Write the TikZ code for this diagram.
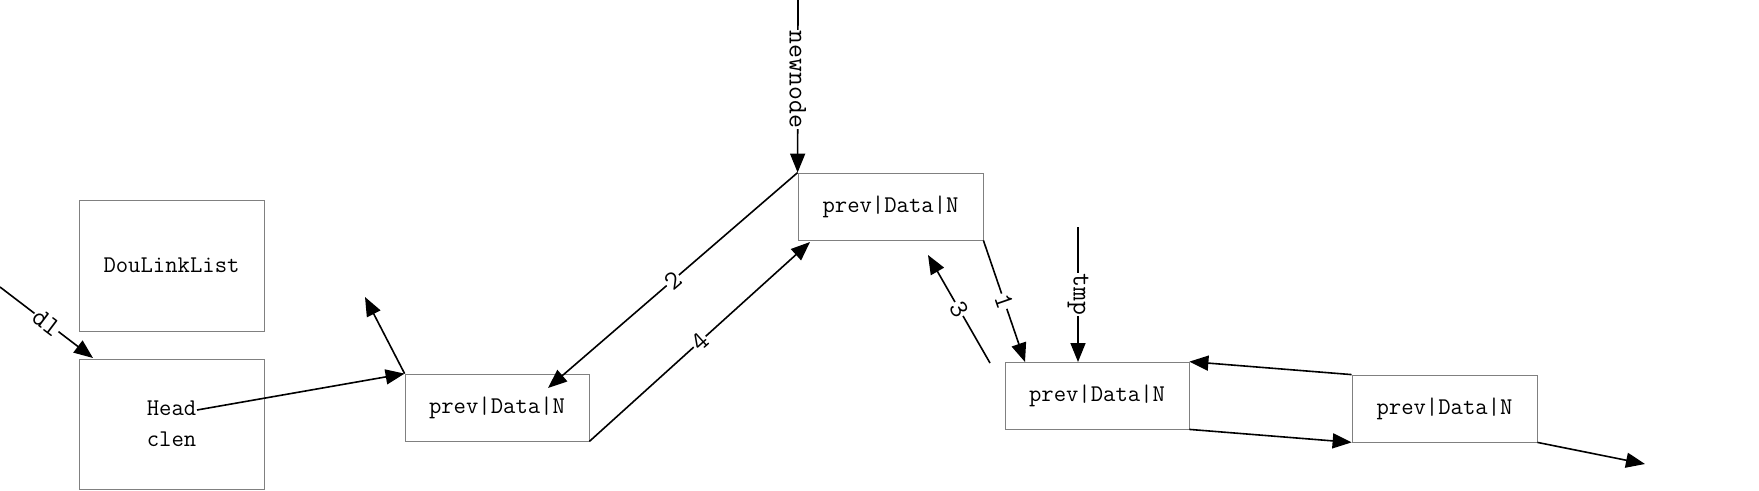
\documentclass[tikz,border=0pt]{standalone}
\usetikzlibrary{arrows.meta,calc}
\newcommand\boxfnt{\fontsize{24}{31}\selectfont\ttfamily}
\newcommand\labfnt{\fontsize{27}{30}\selectfont\ttfamily}
\begin{document}
\begin{tikzpicture}[x=1pt,y=-1pt,
  box/.style={draw=black!50,line width=0.8pt,minimum width=184pt,minimum height=67pt,inner sep=0pt,font=\boxfnt,align=center},
  arr/.style={line width=1.6pt,-{Triangle[length=19pt,width=15pt]}},
  lab/.style={fill=white,inner sep=1pt,font=\labfnt}]
\useasboundingbox (0,0) rectangle (1759,490);
\node[box,minimum width=185pt,minimum height=131pt] (dll) at (171.5,265.5) {DouLinkList};
\node[box,minimum width=185pt,minimum height=130pt] (head) at (171.5,424) {Head\\clen};
\node[box] (b1) at (497,407.5) {prev|Data|N};
\node[box,minimum width=185pt] (b2) at (890.5,206.5) {prev|Data|N};
\node[box] (b3) at (1097,395.5) {prev|Data|N};
\node[box,minimum width=185pt] (b4) at (1444.5,408.5) {prev|Data|N};
\coordinate (dlS) at (0,287);
\coordinate (dlT) at (93,358);
\coordinate (nnS) at (798,0);
\coordinate (hS) at (197,410);
\coordinate (pE) at (365,297);
\coordinate (t2) at (548,388);
\coordinate (t4) at (810,242);
\coordinate (t1) at (1025,362);
\coordinate (s3) at (990,363);
\coordinate (t3) at (928,255);
\coordinate (tmpS) at (1078,227);
\coordinate (tmpT) at (1078,362);
\coordinate (nE) at (1645,464);
\draw[arr] (dlS) -- node[lab,rotate=-37] {dl} (dlT);
\draw[arr] (nnS) -- node[lab,rotate=-90,pos=0.46] {newnode} (b2.north west);
\draw[arr] (hS) -- (b1.north west);
\draw[arr] (b1.north west) -- (pE);
\draw[arr] (b2.north west) -- node[lab,rotate=41] {2} (t2);
\draw[arr] (b1.south east) -- node[lab,rotate=42] {4} (t4);
\draw[arr] (b2.south east) -- node[lab,rotate=-71] {1} (t1);
\draw[arr] (s3) -- node[lab,rotate=-60] {3} (t3);
\draw[arr] (tmpS) -- node[lab,rotate=-90] {tmp} (tmpT);
\draw[arr] (b4.north west) -- (b3.north east);
\draw[arr] (b3.south east) -- (b4.south west);
\draw[arr] (b4.south east) -- (nE);
\end{tikzpicture}
\end{document}
